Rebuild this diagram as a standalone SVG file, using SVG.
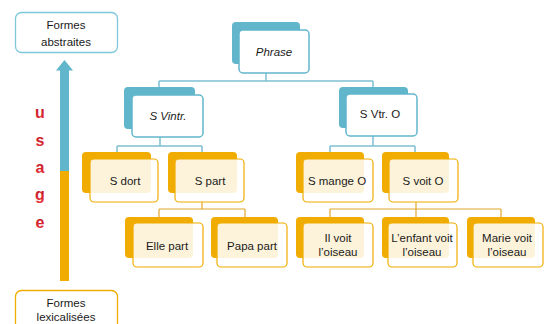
<svg xmlns="http://www.w3.org/2000/svg" width="545" height="324" viewBox="0 0 545 324">
<defs>
<linearGradient id="red" x1="0" y1="0" x2="0" y2="1">
<stop offset="0" stop-color="#b5101e"/><stop offset="1" stop-color="#e8323c"/>
</linearGradient>
</defs>
<style>
text{font-family:"Liberation Sans",Arial,sans-serif;font-size:11.5px;fill:#1a1a1a;text-anchor:middle;dominant-baseline:central}
.it{font-style:italic}
.bb{fill:#62b6cc}
.bf{fill:#fff;stroke:#62b6cc;stroke-width:1.5}
.ob{fill:#f0ac00}
.of{fill:#fff;fill-opacity:0.86;stroke:#f0ac00;stroke-width:1.2}
.cb{fill:none;stroke:#7fc0d2;stroke-width:1.5}
.co{fill:none;stroke:#e3a62c;stroke-width:1.2}
.u{font-size:16px;font-weight:bold;fill:url(#red)}
</style>
<rect width="545" height="324" fill="#fff"/>

<g id="side">
<rect x="15.5" y="12.5" width="102" height="40" rx="6" fill="#fff" stroke="#7ec8da" stroke-width="1.3"/>
<text x="66" y="25">Formes</text>
<text x="66" y="42">abstraites</text>
<rect x="60" y="70" width="9" height="101" fill="#62b6cc"/>
<polygon points="64.5,60 56,70.5 73,70.5" fill="#62b6cc"/>
<rect x="60" y="171" width="9" height="110" fill="#f0ac00"/>
<rect x="15.5" y="290.5" width="102" height="40" rx="6" fill="#fff" stroke="#f0ac00" stroke-width="1.3"/>
<text x="66" y="303">Formes</text>
<text x="66" y="317">lexicalisées</text>
<text class="u" x="40" y="112">u</text>
<text class="u" x="40" y="140">s</text>
<text class="u" x="40" y="167">a</text>
<text class="u" x="40" y="194">g</text>
<text class="u" x="40" y="222">e</text>
</g>

<g id="connectors">
<path class="cb" d="M266,73V81M159,81H373M159,81V87M373,81V87" stroke-width="2"/>
<path class="cb" d="M160,137V146M117,146H202M117,146V152M202,146V152"/>
<path class="cb" d="M373,136V146M330,146H415M330,146V152M415,146V152"/>
<path class="co" d="M202,202V209M159,209H245M159,209V217M245,209V217"/>
<path class="co" d="M416,202V209M330,209H501M330,209V217M416,209V217M501,209V217"/>
</g>

<g id="phrase">
<rect class="bb" x="232" y="22" width="68" height="42" rx="4"/>
<rect class="bf" x="239" y="30" width="70" height="43" rx="4"/>
<text class="it" x="274" y="52">Phrase</text>
</g>

<g id="svintr">
<rect class="bb" x="124" y="87" width="71" height="42" rx="4"/>
<rect class="bf" x="132" y="95" width="71" height="42" rx="4"/>
<text class="it" x="168" y="116">S Vintr.</text>
</g>

<g id="svtro">
<rect class="bb" x="339" y="87" width="69" height="41" rx="4"/>
<rect class="bf" x="346" y="94" width="71" height="42" rx="4"/>
<text x="380" y="114">S Vtr. O</text>
</g>

<g id="sdort">
<rect class="ob" x="82" y="152" width="69" height="41" rx="4"/>
<rect class="of" x="90" y="159" width="68" height="43" rx="4"/>
<text x="125" y="181">S dort</text>
</g>

<g id="spart">
<rect class="ob" x="168" y="152" width="69" height="41" rx="4"/>
<rect class="of" x="175" y="159" width="69" height="43" rx="4"/>
<text x="210" y="181">S part</text>
</g>

<g id="smange">
<rect class="ob" x="296" y="152" width="68" height="41" rx="4"/>
<rect class="of" x="303" y="159" width="70" height="43" rx="4"/>
<text x="337" y="181">S mange O</text>
</g>

<g id="svoit">
<rect class="ob" x="382" y="152" width="67" height="41" rx="4"/>
<rect class="of" x="389" y="159" width="69" height="43" rx="4"/>
<text x="423" y="181">S voit O</text>
</g>

<g id="ellepart">
<rect class="ob" x="125" y="217" width="68" height="41" rx="4"/>
<rect class="of" x="133" y="223" width="70" height="44" rx="4"/>
<text x="167" y="246">Elle part</text>
</g>

<g id="papapart">
<rect class="ob" x="211" y="217" width="67" height="41" rx="4"/>
<rect class="of" x="217" y="223" width="70" height="44" rx="4"/>
<text x="252" y="246">Papa part</text>
</g>

<g id="ilvoit">
<rect class="ob" x="296" y="217" width="68" height="41" rx="4"/>
<rect class="of" x="303" y="223" width="70" height="44" rx="4"/>
<text x="338" y="238">Il voit</text>
<text x="338" y="252">l’oiseau</text>
</g>

<g id="enfantvoit">
<rect class="ob" x="382" y="217" width="67" height="41" rx="4"/>
<rect class="of" x="388" y="223" width="69" height="44" rx="4"/>
<text x="422" y="238">L’enfant voit</text>
<text x="422" y="252">l’oiseau</text>
</g>

<g id="marievoit">
<rect class="ob" x="467" y="217" width="68" height="41" rx="4"/>
<rect class="of" x="473" y="223" width="70" height="44" rx="4"/>
<text x="507" y="238">Marie voit</text>
<text x="507" y="252">l’oiseau</text>
</g>
</svg>
